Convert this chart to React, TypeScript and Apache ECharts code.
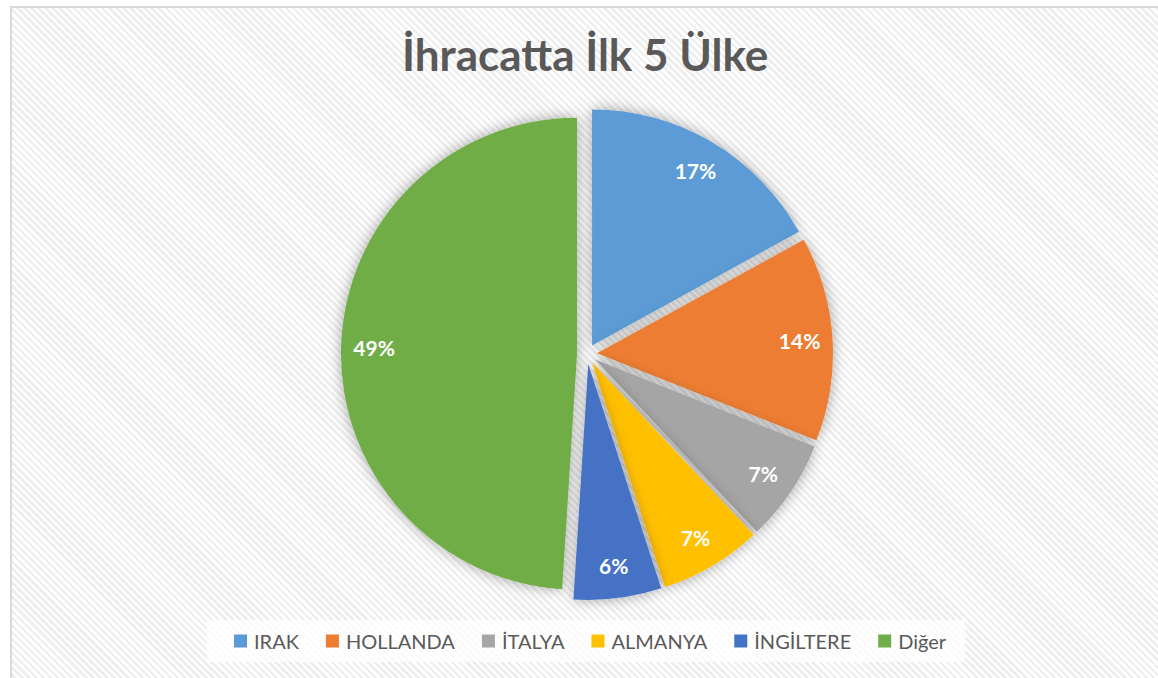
import React, { useEffect, useRef } from "react";
import * as echarts from "echarts";

const titleText = "İhracatta İlk 5 Ülke";
const countries = ["IRAK", "HOLLANDA", "İTALYA", "ALMANYA", "İNGİLTERE", "Diğer"];
const shares = [17, 14, 7, 7, 6, 49];
const colors = ["#5B9BD5", "#ED7D31", "#A5A5A5", "#FFC000", "#4472C4", "#70AD47"];

const FONT = "Lato, 'Open Sans', sans-serif";

export default function App() {
  const ref = useRef<HTMLDivElement>(null);
  useEffect(() => {
    if (!ref.current) return;
    const chart = echarts.init(ref.current, undefined, { renderer: "svg" });
    const center = [587, 354];
    const mainData = countries.map((name, i) => ({
      name,
      value: shares[i],
      selected: true,
      itemStyle: { color: colors[i] },
    }));
    const labelData = countries.map((name, i) => ({
      name,
      value: shares[i],
      selected: true,
      itemStyle: { color: "rgba(0,0,0,0)" },
    }));
    chart.setOption({
      animation: false,
      title: {
        text: titleText,
        left: 397,
        top: 27,
        textStyle: { fontFamily: FONT, fontSize: 44, fontWeight: "bold", color: "#595959" },
      },
      legend: {
        data: countries,
        left: 207,
        top: 620,
        padding: [11, 19, 11, 27],
        backgroundColor: "rgba(255,255,255,0.75)",
        icon: "rect",
        itemWidth: 13,
        itemHeight: 13,
        itemGap: 27,
        selectedMode: false,
        textStyle: { fontFamily: FONT, fontSize: 20, color: "#595959", padding: [0, 0, 0, 2] },
      },
      series: [
        {
          type: "pie",
          center,
          radius: [0, 236],
          startAngle: 90,
          clockwise: true,
          selectedMode: "multiple",
          selectedOffset: 10,
          silent: true,
          label: { show: false },
          labelLine: { show: false },
          emphasis: { disabled: true },
          itemStyle: { shadowBlur: 14, shadowColor: "rgba(0,0,0,0.35)" },
          data: mainData,
        },
        {
          type: "pie",
          center,
          radius: [164, 236],
          startAngle: 90,
          clockwise: true,
          selectedMode: "multiple",
          selectedOffset: 10,
          silent: true,
          z: 5,
          label: {
            show: true,
            position: "inside",
            formatter: "{c}%",
            color: "#ffffff",
            fontFamily: FONT,
            fontWeight: "bold",
            fontSize: 21,
          },
          labelLine: { show: false },
          emphasis: { disabled: true },
          data: labelData,
        },
      ],
    });
    return () => chart.dispose();
  }, []);
  return (
    <div style={{ position: "fixed", left: 0, top: 0, width: 1158, height: 678, background: "#ffffff", overflow: "hidden" }}>
      <div
        style={{
          position: "absolute",
          left: 10,
          top: 6,
          width: 1170,
          height: 700,
          borderLeft: "2px solid #d9d9d9",
          borderTop: "2px solid #d9d9d9",
          background: "repeating-linear-gradient(45deg, #ffffff 0px, #ffffff 2.5px, #eeeeee 2.5px, #eeeeee 5px)",
        }}
      />
      <div ref={ref} style={{ position: "absolute", left: 0, top: 0, width: 1158, height: 678 }} />
    </div>
  );
}
